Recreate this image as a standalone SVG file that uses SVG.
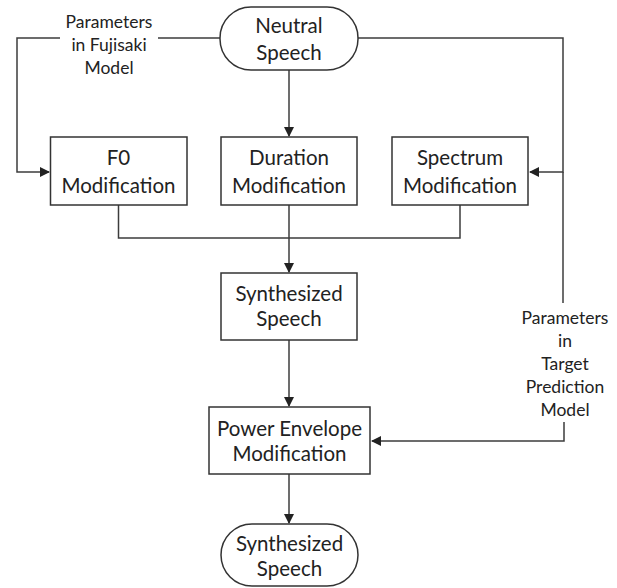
<svg xmlns="http://www.w3.org/2000/svg" width="617" height="588" viewBox="0 0 617 588">
<defs>
<marker id="ah" markerWidth="10" markerHeight="10" refX="9" refY="5" orient="auto" markerUnits="userSpaceOnUse">
<path d="M0,0 L10,5 L0,10 z" fill="#222"/>
</marker>
<style>
.box{fill:#fff;stroke:#333;stroke-width:1.5}
.ln{fill:none;stroke:#3c3c3c;stroke-width:1.5}
.t{font-family:Lato,"Liberation Sans",sans-serif;font-size:20.5px;fill:#222;text-anchor:middle;dominant-baseline:central}
.s{font-family:Lato,"Liberation Sans",sans-serif;font-size:17.5px;fill:#222;text-anchor:middle;dominant-baseline:central}
</style>
</defs>
<rect width="617" height="588" fill="#fff"/>
<g id="connectors">
<path class="ln" d="M220,38 H17 V172 H49" marker-end="url(#ah)"/>
<path class="ln" d="M358,38 H563 V172 H530" marker-end="url(#ah)"/>
<path class="ln" d="M289,70 V136" marker-end="url(#ah)"/>
<path class="ln" d="M118.5,205 V238 H460 V205"/>
<path class="ln" d="M289,205 V272" marker-end="url(#ah)"/>
<path class="ln" d="M563,172 V303"/>
<path class="ln" d="M564,422 V441 H372" marker-end="url(#ah)"/>
<path class="ln" d="M289,340 V406" marker-end="url(#ah)"/>
<path class="ln" d="M289,474 V523" marker-end="url(#ah)"/>
</g>
<g id="label-fujisaki">
<rect x="60" y="8" width="98" height="72" fill="#fff"/>
<text class="s" x="109" y="21">Parameters</text>
<text class="s" x="109" y="44">in Fujisaki</text>
<text class="s" x="109" y="67">Model</text>
</g>
<g id="label-target">
<text class="s" x="565" y="317">Parameters</text>
<text class="s" x="565" y="340">in</text>
<text class="s" x="565" y="363">Target</text>
<text class="s" x="565" y="386">Prediction</text>
<text class="s" x="565" y="409">Model</text>
</g>
<g id="neutral">
<rect class="box" x="220" y="7" width="138" height="63" rx="31" ry="31"/>
<text class="t" x="289" y="25">Neutral</text>
<text class="t" x="289" y="52">Speech</text>
</g>
<g id="f0">
<rect class="box" x="50.5" y="137" width="136.5" height="68"/>
<text class="t" x="118.5" y="157">F0</text>
<text class="t" x="118.5" y="185">Modification</text>
</g>
<g id="duration">
<rect class="box" x="221" y="137" width="136" height="68"/>
<text class="t" x="289" y="157">Duration</text>
<text class="t" x="289" y="185">Modification</text>
</g>
<g id="spectrum">
<rect class="box" x="392" y="137" width="136" height="68"/>
<text class="t" x="460" y="157">Spectrum</text>
<text class="t" x="460" y="185">Modification</text>
</g>
<g id="synth-box">
<rect class="box" x="221" y="273" width="136" height="67"/>
<text class="t" x="289" y="293">Synthesized</text>
<text class="t" x="289" y="318">Speech</text>
</g>
<g id="power">
<rect class="box" x="209" y="407" width="161" height="67"/>
<text class="t" x="289.5" y="428">Power Envelope</text>
<text class="t" x="289.5" y="453">Modification</text>
</g>
<g id="synth-out">
<rect class="box" x="221" y="524" width="137" height="62" rx="31" ry="31"/>
<text class="t" x="289.5" y="543">Synthesized</text>
<text class="t" x="289.5" y="568">Speech</text>
</g>
</svg>
